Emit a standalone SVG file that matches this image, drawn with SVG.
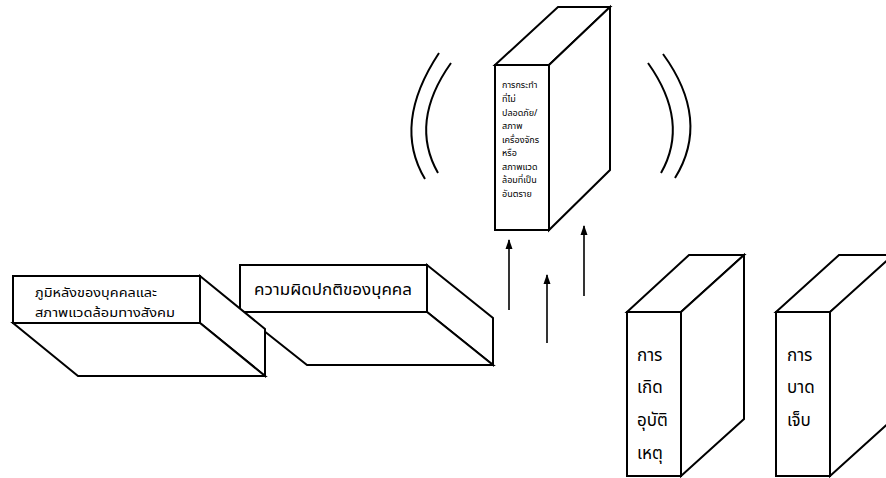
<svg xmlns="http://www.w3.org/2000/svg" width="886" height="478" viewBox="0 0 886 478">
<defs>
<marker id="ah" viewBox="0 0 10 10" refX="9" refY="5" markerWidth="10" markerHeight="10" markerUnits="userSpaceOnUse" orient="auto">
<path d="M0,1.5 L10,5 L0,8.5 z" fill="#000"/>
</marker>
<style>
.f{fill:#fff;stroke:#000;stroke-width:2;stroke-linejoin:miter}
.t{font-family:"Noto Sans Thai","Noto Sans Thai UI","Loma","Garuda","Tlwg Typo","Noto Sans","DejaVu Sans",sans-serif;fill:#000}
.arc{fill:none;stroke:#000;stroke-width:2}
.con{stroke:#000;stroke-width:1.6;fill:none;marker-end:url(#ah)}
</style>
</defs>
<rect width="886" height="478" fill="#fff"/>

<g id="node-abnormal">
<polygon class="f" points="427,265 493,318 493,365 427,312"/>
<polygon class="f" points="240,312 427,312 493,365 307,365"/>
<rect class="f" x="240" y="265" width="187" height="47"/>
<text class="t" x="254" y="295" font-size="15" textLength="158" lengthAdjust="spacingAndGlyphs">ความผิดปกติของบุคคล</text>
</g>

<g id="node-background">
<polygon class="f" points="200,276 265,329 265,376 200,323"/>
<polygon class="f" points="13,323 200,323 265,376 78,376"/>
<rect class="f" x="13" y="276" width="187" height="47"/>
<text class="t" x="35" y="297" font-size="12.5" textLength="122" lengthAdjust="spacingAndGlyphs">ภูมิหลังของบุคคลและ</text>
<text class="t" x="35" y="317" font-size="12.5" textLength="140" lengthAdjust="spacingAndGlyphs">สภาพแวดล้อมทางสังคม</text>
</g>

<g id="node-unsafe">
<polygon class="f" points="495,65 558,7 610,7 549,65"/>
<polygon class="f" points="549,65 610,7 610,170 549,230"/>
<rect class="f" x="495" y="65" width="54" height="165"/>
<g class="t" font-size="9">
<text x="502" y="88">การกระทำ</text>
<text x="502" y="102">ที่ไม่</text>
<text x="502" y="116">ปลอดภัย/</text>
<text x="502" y="129">สภาพ</text>
<text x="502" y="143">เครื่องจักร</text>
<text x="502" y="156">หรือ</text>
<text x="502" y="170">สภาพแวด</text>
<text x="502" y="183">ล้อมที่เป็น</text>
<text x="502" y="197">อันตราย</text>
</g>
</g>

<g id="waves">
<path class="arc" d="M439,53 Q392,124 425,179"/>
<path class="arc" d="M451,63 Q409,122 438,173"/>
<path class="arc" d="M648,63 Q690,122 661,173"/>
<path class="arc" d="M663,54 Q711,120 675,178"/>
</g>

<g id="node-accident">
<polygon class="f" points="627,312 689,255 744,255 681,312"/>
<polygon class="f" points="681,312 744,255 744,419 681,476"/>
<rect class="f" x="627" y="312" width="54" height="164"/>
<g class="t" font-size="17">
<text x="637" y="361">การ</text>
<text x="637" y="393">เกิด</text>
<text x="637" y="426">อุบัติ</text>
<text x="637" y="459">เหตุ</text>
</g>
</g>

<g id="node-injury">
<polygon class="f" points="776,312 839,255 900,255 830,312"/>
<polygon class="f" points="830,312 893,255 893,419 830,476"/>
<rect class="f" x="776" y="312" width="54" height="164"/>
<g class="t" font-size="17">
<text x="787" y="361">การ</text>
<text x="787" y="393">บาด</text>
<text x="787" y="426">เจ็บ</text>
</g>
</g>

<g id="connectors">
<line class="con" x1="509" y1="310" x2="509" y2="240"/>
<line class="con" x1="547" y1="343" x2="547" y2="275"/>
<line class="con" x1="584" y1="296" x2="584" y2="226"/>
</g>
</svg>
